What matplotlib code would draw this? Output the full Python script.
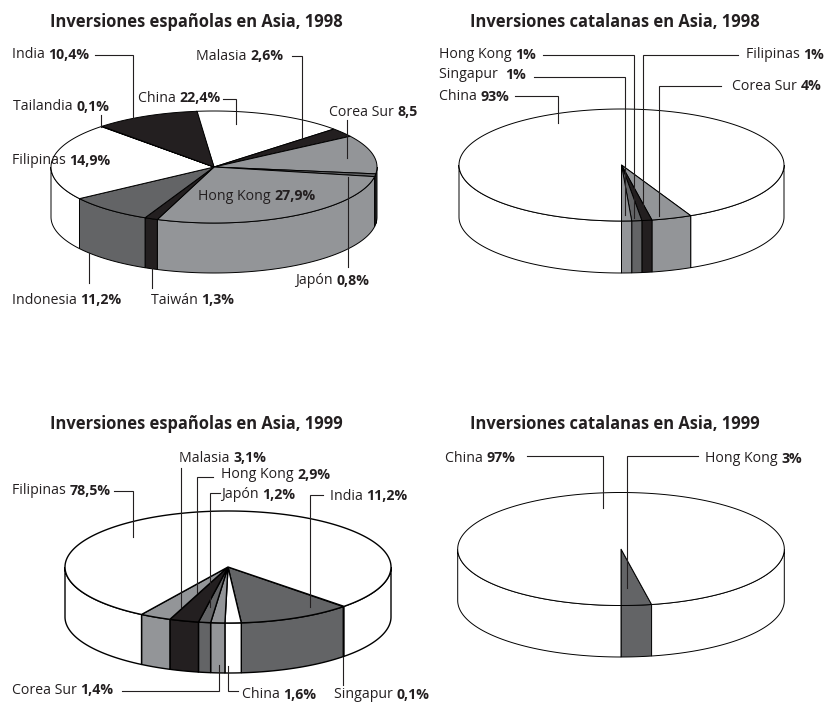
#!/usr/bin/env python
"""Inversiones en Asia: four 3D looking pies"""

import numpy as np
import matplotlib
matplotlib.use("Agg")
import matplotlib.pyplot as plt
from matplotlib.patches import Polygon

WHITE = "#ffffff"
GREY = "#939598"
DARK = "#636466"
BLACK = "#231f20"

# slices clockwise as they are drawn, the printed labels are listed apart
ES98_VALUES = [14.9, 2.6, 11.2, 0.8, 27.9, 1.3, 8.5, 22.4, 0.1, 10.4]
ES98_COLORS = [WHITE, BLACK, GREY, DARK, GREY, BLACK, DARK, WHITE, WHITE, BLACK]
ES98_NAMES = ["India", "Malasia", "China", "Tailandia", "Corea Sur", "Filipinas",
              "Hong Kong", "Japón", "Indonesia", "Taiwán"]
ES98_PCTS = ["10,4%", "2,6%", "22,4%", "0,1%", "8,5", "14,9%",
             "27,9%", "0,8%", "11,2%", "1,3%"]

CA98_VALUES = [93, 4, 1, 1, 1]
CA98_COLORS = [WHITE, GREY, BLACK, DARK, GREY]
CA98_NAMES = ["Hong Kong", "Singapur ", "China", "Filipinas", "Corea Sur"]
CA98_PCTS = ["1%", "1%", "93%", "1%", "4%"]

ES99_VALUES = [0.1, 11.2, 1.6, 1.4, 1.2, 2.9, 3.1, 78.5]
ES99_COLORS = [BLACK, DARK, WHITE, GREY, DARK, BLACK, GREY, WHITE]
ES99_NAMES = ["Malasia", "Hong Kong", "Japón", "Filipinas", "India",
              "Corea Sur", "China", "Singapur"]
ES99_PCTS = ["3,1%", "2,9%", "1,2%", "78,5%", "11,2%", "1,4%", "1,6%", "0,1%"]

CA99_VALUES = [3, 97]
CA99_COLORS = [DARK, WHITE]
CA99_NAMES = ["China", "Hong Kong"]
CA99_PCTS = ["97%", "3%"]

TITLES = ["Inversiones españolas en Asia, 1998", "Inversiones catalanas en Asia, 1998",
          "Inversiones españolas en Asia, 1999", "Inversiones catalanas en Asia, 1999"]

FONT = "Open Sans"
LABEL_SIZE = 10.2
TITLE_SIZE = 11.9

fig = plt.figure(figsize=(8.25, 7.02), dpi=100)
ax = fig.add_axes([0, 0, 1, 1])
ax.set_xlim(0, 825)
ax.set_ylim(702, 0)
ax.axis("off")


def arc(cx, cy, rx, ry, t0, t1):
    """Ellipse points, angle in degrees clockwise from the top"""
    n = max(2, int(abs(t1-t0))+2)
    t = np.radians(np.linspace(t0, t1, n))
    return np.column_stack([cx+rx*np.sin(t), cy-ry*np.cos(t)])


def draw_pie(cx, cy, rx, ry, depth, start, values, colors, lw=0.7):
    """Walls of the front half first, then the top faces"""
    angles = start+np.cumsum([0]+values)*3.6
    for i, col in enumerate(colors):
        for shift in (0, -360):
            t0 = max(angles[i]+shift, 90)
            t1 = min(angles[i+1]+shift, 270)
            if t1 <= t0:
                continue
            top = arc(cx, cy, rx, ry, t0, t1)
            low = top[::-1]+[0, depth]
            ax.add_patch(Polygon(np.vstack([top, low]), closed=True, fc=col,
                                 ec="black", lw=lw, zorder=2))
    for i, col in enumerate(colors):
        pts = np.vstack([[cx, cy], arc(cx, cy, rx, ry, angles[i], angles[i+1])])
        ax.add_patch(Polygon(pts, closed=True, fc=col, ec="black", lw=lw, zorder=3))


def draw_label(x, y, name, pct):
    """Regular name and bold value side by side"""
    left = ax.text(x, y, name+" ", family=FONT, size=LABEL_SIZE, color="#231f20",
                   va="center", ha="left", zorder=6)
    box = left.get_window_extent(fig.canvas.get_renderer())
    ax.text(x+box.width, y, pct, family=FONT, size=LABEL_SIZE, weight="bold",
            color="#231f20", va="center", ha="left", zorder=6)


def draw_leader(points):
    """Thin leader line from a label into its slice"""
    xs, ys = zip(*points)
    ax.plot(xs, ys, color="#231f20", lw=0.8, zorder=5, solid_joinstyle="miter")


draw_pie(214, 167, 163, 56, 50, -6.3, ES98_VALUES, ES98_COLORS)
draw_pie(621.5, 165, 162.5, 56, 52, 180, CA98_VALUES, CA98_COLORS)
draw_pie(228, 567, 163, 56, 50, 134.64, ES99_VALUES, ES99_COLORS, lw=1.0)
draw_pie(621, 549, 163.3, 56.5, 51.5, 169.2, CA99_VALUES, CA99_COLORS)

for title, x, y in zip(TITLES, [196, 615, 196, 615], [22, 22, 424, 424]):
    ax.text(x, y, title, family=FONT, size=TITLE_SIZE, weight="bold", color="#231f20",
            ha="center", va="center", zorder=6)

ES98_POS = [(12, 55), (196, 56), (138, 98), (13, 107), (329, 112), (12, 161),
            (198, 196), (295, 281), (12, 300), (151, 300)]
CA98_POS = [(439, 55), (439, 75), (439, 97), (746, 55), (732, 86)]
ES99_POS = [(179, 458), (221, 475), (221, 495), (12, 491), (330, 496),
            (12, 690), (242, 695), (334, 695)]
CA99_POS = [(445, 458), (705, 459)]

for names, pcts, places in ((ES98_NAMES, ES98_PCTS, ES98_POS), (CA98_NAMES, CA98_PCTS, CA98_POS),
                            (ES99_NAMES, ES99_PCTS, ES99_POS), (CA99_NAMES, CA99_PCTS, CA99_POS)):
    for name, pct, (x, y) in zip(names, pcts, places):
        draw_label(x, y, name, pct)

LEADERS = [
    [(95, 55), (133, 55), (133, 118)],
    [(292, 56), (302, 56), (302, 138)],
    [(223, 99), (236, 99), (236, 124)],
    [(101, 115), (101, 127)],
    [(347, 120), (347, 158)],
    [(348, 177), (348, 267)],
    [(89, 253), (89, 283)],
    [(152, 268), (152, 288)],
    [(543, 55), (634, 55), (634, 218)],
    [(738, 55), (643, 55), (643, 213)],
    [(534, 77), (625, 77), (625, 215)],
    [(515, 96), (558, 96), (558, 123)],
    [(721, 86), (659, 86), (659, 216)],
    [(181, 468), (181, 607)],
    [(213, 477), (197, 477), (197, 593)],
    [(220, 493), (210, 493), (210, 607)],
    [(114, 491), (133, 491), (133, 537)],
    [(323, 495), (310, 495), (310, 607)],
    [(122, 691), (219, 691), (219, 665)],
    [(238, 691), (228, 691), (228, 666)],
    [(343, 657), (343, 685)],
    [(527, 456), (603, 456), (603, 508)],
    [(698, 456), (627, 456), (627, 588)],
]
for leader in LEADERS:
    draw_leader(leader)

fig.savefig("out.png", dpi=100, facecolor="white")
